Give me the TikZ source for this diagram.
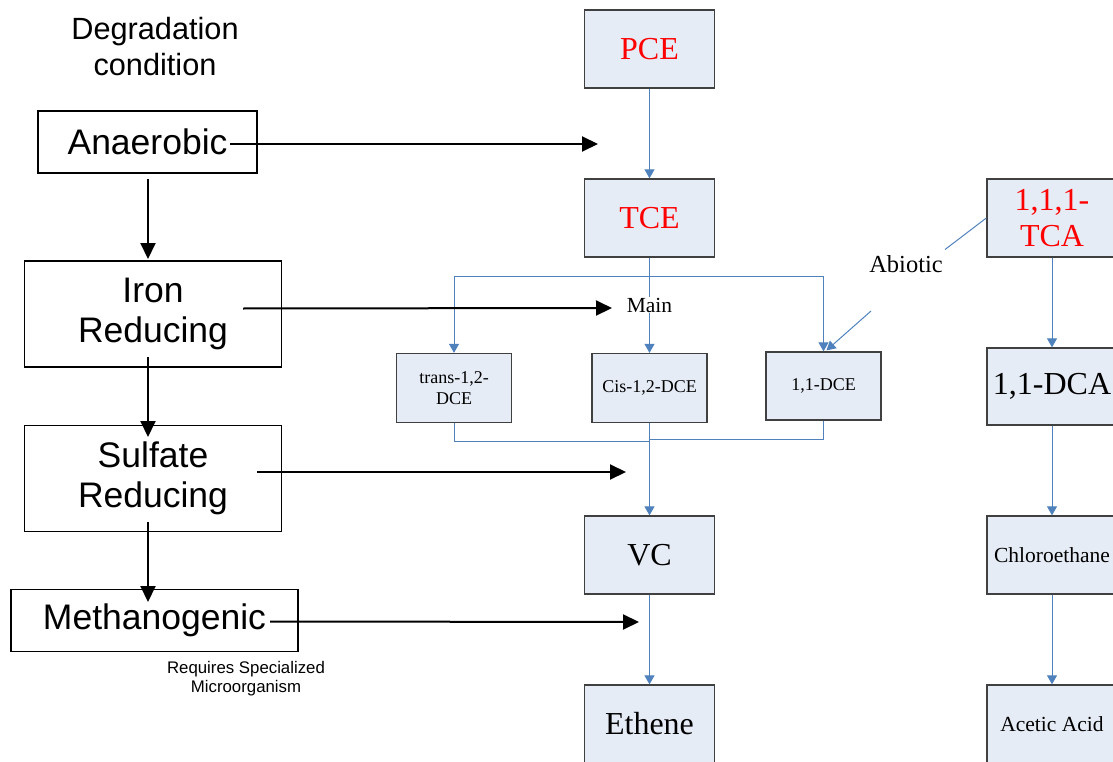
\documentclass[tikz,border=0pt]{standalone}
\usepackage{fontspec}
\setmainfont{Liberation Serif}
\newfontfamily\arialfont{Liberation Sans}
\usetikzlibrary{arrows.meta}
\definecolor{boxfill}{RGB}{230,236,246}
\definecolor{boxgray}{RGB}{64,64,64}
\definecolor{lineblue}{RGB}{79,129,189}
\tikzset{
 chem/.style={draw=boxgray, fill=boxfill, line width=1.3pt, inner sep=0pt, align=center,
   minimum width=130pt, minimum height=78pt, font=\fontsize{32}{36.5}\selectfont},
 chems/.style={chem, minimum width=115pt, minimum height=69pt, font=\fontsize{18}{21.5}\selectfont},
 chemm/.style={chem, font=\fontsize{21.5}{25}\selectfont},
 cond/.style={draw=black, line width=1.6pt, inner sep=0pt, align=center,
   font=\arialfont\fontsize{35.5}{40.5}\selectfont},
 barrow/.style={draw=lineblue, line width=1pt, -{Triangle[length=9pt,width=10pt]}},
 bline/.style={draw=lineblue, line width=1pt},
 karrow/.style={line width=2pt, -{Triangle[length=16pt,width=15pt]}},
 lbl/.style={inner sep=1pt, fill=white},
}
\begin{document}
\begin{tikzpicture}[x=1pt,y=-1pt]
\useasboundingbox (0,0) rectangle (1113,762);
% left column
\node[font=\arialfont\fontsize{30.7}{36}\selectfont, align=center] (title) at (155,47) {Degradation\\condition};
\node[cond, minimum width=219pt, minimum height=62pt] (anae) at (147.5,142) {Anaerobic};
\node[cond, minimum width=257pt, minimum height=106pt] (iron) at (153,314) {Iron\\Reducing};
\node[cond, minimum width=257pt, minimum height=106pt] (sulf) at (153,478.5) {Sulfate\\Reducing};
\node[cond, minimum width=287pt, minimum height=62pt] (meth) at (154.5,620.5) {Methanogenic};
\node[font=\arialfont\fontsize{16.8}{19.3}\selectfont, align=center] (req) at (246,678.5) {Requires Specialized\\Microorganism};

% right chemistry
\node[chem, text=red] (pce) at (649.5,49) {PCE};
\node[chem, text=red] (tce) at (649.5,218) {TCE};
\node[chems] (trans) at (454,388) {trans-1,2-\\DCE};
\node[chems] (cis) at (649.5,388) {Cis-1,2-DCE};
\node[chems, minimum height=68pt] (dce) at (823.5,386) {1,1-DCE};
\node[chem] (vc) at (649.5,555) {VC};
\node[chem] (eth) at (649.5,724) {Ethene};
\node[chem, text=red] (tca) at (1052,218) {1,1,1-\\TCA};
\node[chem, minimum height=77pt] (dca) at (1052,386.5) {1,1-DCA};
\node[chemm] (chl) at (1052,555) {Chloroethane};
\node[chemm] (ace) at (1052,724) {Acetic Acid};

% blue connectors
\coordinate (br) at (649.5,276);
\draw[barrow] (pce) -- (tce);
\draw[bline] (br -| trans) -- (br -| dce);
\draw[barrow] (br -| trans) -- (trans.north);
\draw[barrow] (br -| dce) -- (dce.north);
\draw[barrow] (tce) -- (cis);
\node[lbl, font=\fontsize{21.5}{25}\selectfont] (main) at (649.5,305) {Main};
\coordinate (m1) at (649.5,441.5);
\coordinate (m2) at (649.5,439.5);
\draw[bline] (trans.south) |- (m1);
\draw[bline] (dce.south) |- (m2);
\draw[barrow] (cis) -- (vc);
\draw[barrow] (vc) -- (eth);
\draw[barrow] (tca) -- (dca);
\draw[barrow] (dca) -- (chl);
\draw[barrow] (chl) -- (ace);
% abiotic
\coordinate (ab1) at (945,249.5);
\coordinate (ab2) at (871,311);
\draw[bline] (tca.west) -- (ab1);
\draw[barrow] (ab2) -- ([xshift=3pt,yshift=1pt]dce.north);
\node[font=\fontsize{24.5}{28}\selectfont] (abio) at (906,264.5) {Abiotic};

% black arrows
\coordinate (a1s) at (230,144); \coordinate (a1e) at (598,144);
\coordinate (a2s) at (243,308.5); \coordinate (a2e) at (612,308);
\coordinate (a3s) at (257,472); \coordinate (a3e) at (626,472);
\coordinate (a4s) at (270,621.5); \coordinate (a4e) at (639,622);
\draw[karrow] (a1s) -- (a1e);
\draw[karrow] (a2s) -- (a2e);
\draw[karrow] (a3s) -- (a3e);
\draw[karrow] (a4s) -- (a4e);
\coordinate (v1s) at (148,179); \coordinate (v1e) at (148,259);
\coordinate (v2s) at (148,357); \coordinate (v2e) at (148,437);
\coordinate (v3s) at (148,522); \coordinate (v3e) at (148,602);
\draw[karrow] (v1s) -- (v1e);
\draw[karrow] (v2s) -- (v2e);
\draw[karrow] (v3s) -- (v3e);
\end{tikzpicture}
\end{document}
